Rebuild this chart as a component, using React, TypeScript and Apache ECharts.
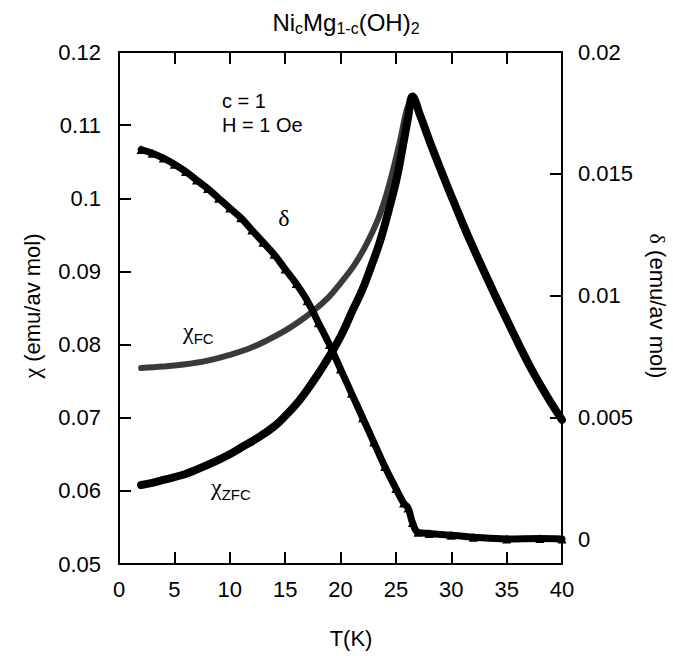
import React, { useEffect, useRef } from "react";
import * as echarts from "echarts";

// ---- data ----
const T_ZFC = [2, 3, 4, 5.8, 7, 8.8, 10, 11, 12.7, 14, 14.8, 16.3, 17.5, 18.5, 19.5, 20.3, 21.1, 22, 22.7, 23.5, 24.2, 25, 25.4, 26.1, 26.5, 27.2, 28.3, 29.5, 30.5, 31.7, 32.9, 34, 35.3, 36.3, 37.4, 38.7, 40];
const CHI_ZFC = [0.0608, 0.0611, 0.0615, 0.0622, 0.0629, 0.0641, 0.065, 0.0659, 0.0674, 0.0688, 0.0699, 0.0724, 0.0749, 0.0772, 0.0797, 0.082, 0.0847, 0.0876, 0.0904, 0.0938, 0.0975, 0.1022, 0.1052, 0.111, 0.1139, 0.1113, 0.1068, 0.1022, 0.0985, 0.0942, 0.0902, 0.0866, 0.0825, 0.0794, 0.0762, 0.0728, 0.0697];

const T_FC = [2, 4, 6, 8, 10, 11.8, 13.4, 15, 16.5, 17.7, 19, 19.9, 21.3, 22.3, 23.3, 24, 24.7, 25.4, 26, 26.5];
const CHI_FC = [0.0768, 0.077, 0.0773, 0.0778, 0.0786, 0.0795, 0.0806, 0.0819, 0.0834, 0.0848, 0.0866, 0.0882, 0.091, 0.0936, 0.0968, 0.0998, 0.1036, 0.108, 0.1122, 0.1139];

const T_DELTA = [2, 3, 4, 5, 6, 7, 8, 9, 10, 11, 12, 13, 14, 15, 16, 17, 18, 19, 20, 21, 22, 23, 24, 25, 25.7, 26.1, 26.5, 27, 28, 30, 32, 35, 38, 40];
const DELTA = [0.016, 0.01585, 0.01565, 0.0154, 0.0151, 0.01475, 0.0144, 0.014, 0.0136, 0.0132, 0.0127, 0.0122, 0.0117, 0.0111, 0.0105, 0.0098, 0.0089, 0.008, 0.007, 0.006, 0.005, 0.004, 0.003, 0.0021, 0.0015, 0.0013, 0.0007, 0.0003, 0.00025, 0.00018, 0.0001, 0.00003, 0.00005, 0.00003];

const RIGHT_TICKS = [0, 0.005, 0.01, 0.015, 0.02];

const SANS = "'Liberation Sans', Arial, Helvetica, sans-serif";
const SERIF = "'Liberation Serif', 'DejaVu Serif', serif";

const zip = (xs: number[], ys: number[]) => xs.map((x, i) => [x, ys[i]]);
const fmt = (v: number) => String(parseFloat(v.toFixed(4)));

export default function App() {
  const ref = useRef<HTMLDivElement>(null);
  useEffect(() => {
    if (!ref.current) return;
    const chart = echarts.init(ref.current, undefined, { renderer: "svg" });
    const axisLine = () => ({ show: true, onZero: false, lineStyle: { color: "#000", width: 2 } });
    const tick = () => ({ show: true, inside: true, length: 12, lineStyle: { color: "#000", width: 2 } });
    const label = { color: "#000", fontSize: 22, fontFamily: SANS };
    chart.setOption({
      animation: false,
      backgroundColor: "#fff",
      grid: { left: 119, right: 111, top: 52, bottom: 92 },
      xAxis: [
        {
          type: "value", min: 0, max: 40, interval: 5, position: "bottom",
          axisLine: axisLine(), axisTick: tick(), splitLine: { show: false },
          axisLabel: { ...label, margin: 14 },
        },
        {
          type: "value", min: 0, max: 40, interval: 5, position: "top",
          axisLine: axisLine(), axisTick: tick(), splitLine: { show: false },
          axisLabel: { show: false },
        },
      ],
      yAxis: [
        {
          type: "value", min: 0.05, max: 0.12, interval: 0.01, position: "left",
          axisLine: axisLine(), axisTick: tick(), splitLine: { show: false },
          axisLabel: { ...label, margin: 18, formatter: fmt },
        },
        {
          type: "value", min: -0.001, max: 0.02, position: "right",
          axisLine: axisLine(), splitLine: { show: false },
          axisTick: { ...tick(), customValues: RIGHT_TICKS },
          axisLabel: { ...label, margin: 16, formatter: fmt, customValues: RIGHT_TICKS },
        },
      ],
      series: [
        {
          name: "χFC", type: "line", xAxisIndex: 0, yAxisIndex: 0,
          data: zip(T_FC, CHI_FC), smooth: 0.4, showSymbol: false, z: 2,
          lineStyle: { color: "#3a3a3a", width: 6, cap: "round", join: "round" },
        },
        {
          name: "χZFC", type: "line", xAxisIndex: 0, yAxisIndex: 0,
          data: zip(T_ZFC, CHI_ZFC), smooth: 0.4, showSymbol: false, z: 3,
          lineStyle: { color: "#000", width: 8, cap: "round", join: "round" },
        },
        {
          name: "δ", type: "line", xAxisIndex: 0, yAxisIndex: 1,
          data: zip(T_DELTA, DELTA), smooth: 0.4, z: 4,
          symbol: "triangle", symbolSize: 9, showSymbol: true,
          itemStyle: { color: "#000" },
          lineStyle: { color: "#000", width: 7, cap: "round", join: "round" },
        },
      ],
      graphic: [
        {
          type: "text", x: 346, y: 22,
          style: {
            text: "{n|Ni}{s|c}{n|Mg}{s|1-c}{n|(OH)}{s|2}",
            align: "center", verticalAlign: "middle",
            rich: {
              n: { fontSize: 24, fontFamily: SANS, lineHeight: 28, fill: "#000" },
              s: { fontSize: 16, fontFamily: SANS, lineHeight: 16, verticalAlign: "bottom", fill: "#000" },
            },
          },
        },
        {
          type: "text", x: 32, y: 306, rotation: Math.PI / 2,
          style: {
            text: "{g|χ}{n| (emu/av mol)}", align: "center", verticalAlign: "middle",
            rich: {
              g: { fontSize: 24, fontFamily: SERIF, fill: "#000" },
              n: { fontSize: 22, fontFamily: SANS, fill: "#000" },
            },
          },
        },
        {
          type: "text", x: 657, y: 306, rotation: -Math.PI / 2,
          style: {
            text: "{g|δ}{n| (emu/av mol)}", align: "center", verticalAlign: "middle",
            rich: {
              g: { fontSize: 22, fontFamily: SERIF, fill: "#000" },
              n: { fontSize: 22, fontFamily: SANS, fill: "#000" },
            },
          },
        },
        {
          type: "text", x: 351, y: 638,
          style: { text: "T(K)", align: "center", verticalAlign: "middle", fontSize: 22, fontFamily: SANS, fill: "#000" },
        },
        {
          type: "text", x: 222, y: 101,
          style: { text: "c = 1", align: "left", verticalAlign: "middle", fontSize: 20, fontFamily: SANS, fill: "#000" },
        },
        {
          type: "text", x: 222, y: 125,
          style: { text: "H = 1 Oe", align: "left", verticalAlign: "middle", fontSize: 20, fontFamily: SANS, fill: "#000" },
        },
        {
          type: "text", x: 284, y: 218,
          style: { text: "δ", align: "center", verticalAlign: "middle", fontSize: 24, fontFamily: SERIF, fill: "#000" },
        },
        {
          type: "text", x: 183, y: 331,
          style: {
            text: "{g|χ}{s|FC}", align: "left", verticalAlign: "middle",
            rich: {
              g: { fontSize: 24, fontFamily: SERIF, lineHeight: 30, fill: "#000" },
              s: { fontSize: 15, fontFamily: SANS, lineHeight: 15, verticalAlign: "bottom", fill: "#000" },
            },
          },
        },
        {
          type: "text", x: 211, y: 487,
          style: {
            text: "{g|χ}{s|ZFC}", align: "left", verticalAlign: "middle",
            rich: {
              g: { fontSize: 24, fontFamily: SERIF, lineHeight: 30, fill: "#000" },
              s: { fontSize: 15, fontFamily: SANS, lineHeight: 15, verticalAlign: "bottom", fill: "#000" },
            },
          },
        },
      ],
    });
    return () => chart.dispose();
  }, []);
  return <div ref={ref} style={{ width: 673, height: 656, position: "absolute", left: 0, top: 0 }} />;
}
